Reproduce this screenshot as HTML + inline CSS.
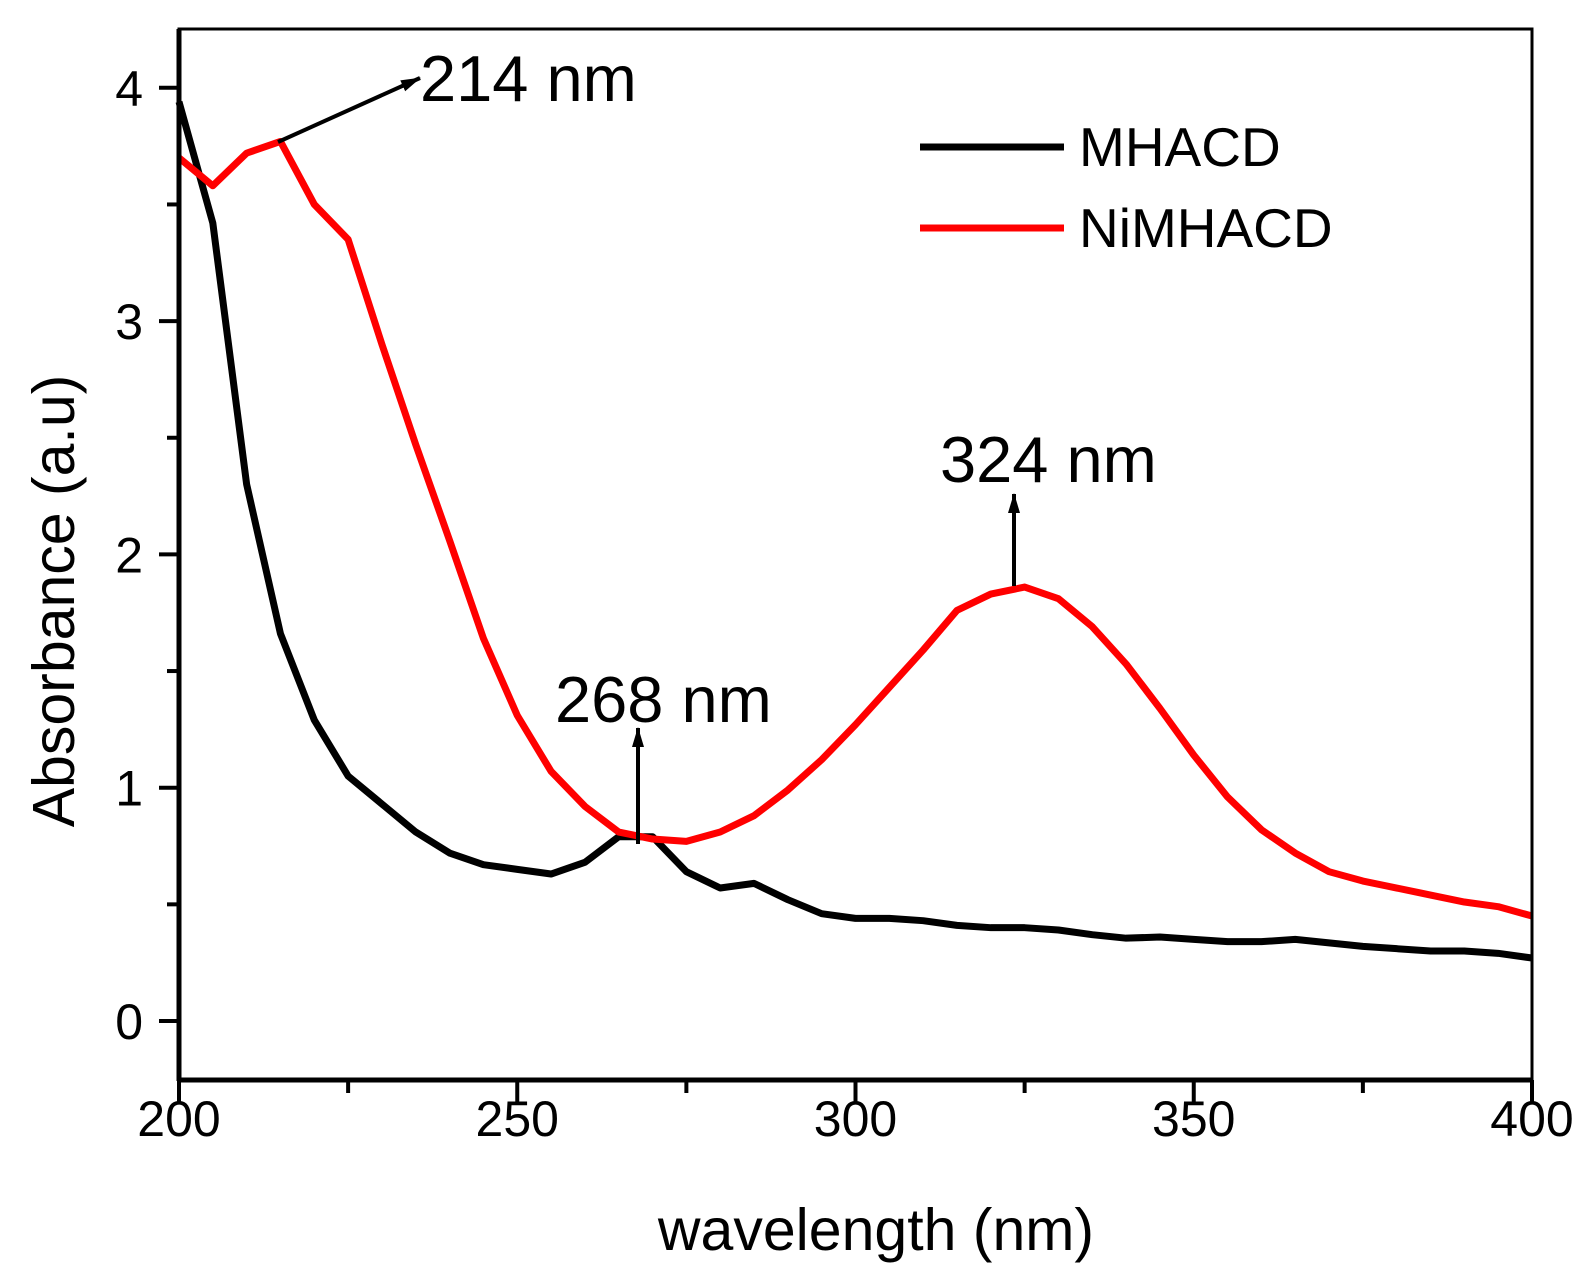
<!DOCTYPE html>
<html><head><meta charset="utf-8"><style>
html,body{margin:0;padding:0;background:#fff;}
svg{display:block;font-family:"Liberation Sans",Arial,sans-serif;}
</style></head><body>
<svg id="chart" width="1586" height="1273" viewBox="0 0 1586 1273" xmlns="http://www.w3.org/2000/svg">
<defs>
<marker id="ah2" markerWidth="20" markerHeight="14" refX="19" refY="7" orient="auto" markerUnits="userSpaceOnUse"><path d="M0,1 L20,7 L0,13 z" fill="#000"/></marker></defs>
<g id="plot"></g>
</svg>
<script>
const wavelengths=[200,205,210,215,220,225,230,235,240,245,250,255,260,265,270,275,280,285,290,295,300,305,310,315,320,325,330,335,340,345,350,355,360,365,370,375,380,385,390,395,400];
const mhacd=[3.94,3.42,2.30,1.66,1.29,1.05,0.93,0.81,0.72,0.67,0.65,0.63,0.68,0.79,0.79,0.64,0.57,0.59,0.52,0.46,0.44,0.44,0.43,0.41,0.40,0.40,0.39,0.37,0.355,0.36,0.35,0.34,0.34,0.35,0.335,0.32,0.31,0.30,0.30,0.29,0.27];
const nimhacd=[3.70,3.58,3.72,3.77,3.50,3.35,2.90,2.47,2.06,1.64,1.31,1.07,0.92,0.81,0.78,0.77,0.81,0.88,0.99,1.12,1.27,1.43,1.59,1.76,1.83,1.86,1.81,1.69,1.53,1.34,1.14,0.96,0.82,0.72,0.64,0.60,0.57,0.54,0.51,0.49,0.45];
const xTicks=[200,250,300,350,400];
const yTicks=[0,1,2,3,4];
const L=179,R=1532,T=29,B=1080;
const X=v=>L+(v-200)/200*(R-L);
const Y=v=>1021-v*233.3;
const NS="http://www.w3.org/2000/svg";
const g=document.getElementById('plot');
function mk(t,a,p){const e=document.createElementNS(NS,t);for(const k in a)e.setAttribute(k,a[k]);(p||g).appendChild(e);return e;}
function txt(s,a){const e=mk('text',a);e.textContent=s;return e;}
const series=[[mhacd,'#000','mhacd-line'],[nimhacd,'#ff0000','nimhacd-line']];
series.forEach(([d,c,n])=>{
  const p=mk('polyline',{points:wavelengths.map((w,i)=>X(w)+','+Y(d[i])).join(' '),fill:'none',stroke:c,'stroke-width':7,'stroke-linejoin':'round'});
  
  
});
const fr=mk('rect',{x:L,y:T,width:R-L,height:B-T,fill:'none',stroke:'#000','stroke-width':3});


mk('line',{x1:L,y1:T,x2:L,y2:B+1,stroke:'#000','stroke-width':5});
mk('line',{x1:L-2,y1:B,x2:R,y2:B,stroke:'#000','stroke-width':5});
for(let v=200;v<=400;v+=25){const major=v%50===0;mk('line',{x1:X(v),y1:B,x2:X(v),y2:B+(major?23:13),stroke:'#000','stroke-width':4});}
xTicks.forEach(v=>{const t=txt(String(v),{x:X(v),y:1136,'font-size':50,'text-anchor':'middle'});

});
for(let v=0;v<=4.01;v+=0.5){const major=Math.abs(v-Math.round(v))<1e-6;mk('line',{x1:L,y1:Y(v),x2:L-(major?20:12),y2:Y(v),stroke:'#000','stroke-width':4});}
yTicks.forEach(v=>{const t=txt(String(v),{x:143,y:Y(v)+18,'font-size':50,'text-anchor':'end'});

});
const xt=txt('wavelength (nm)',{x:876,y:1250,'font-size':59,'text-anchor':'middle'});


const yt=txt('Absorbance (a.u)',{x:0,y:0,'font-size':59,'text-anchor':'middle',transform:'translate(74,601) rotate(-90)'});


[['MHACD','#000',147],['NiMHACD','#ff0000',228]].forEach(([n,c,y])=>{
  const l=mk('line',{x1:920,y1:y,x2:1064,y2:y,stroke:c,'stroke-width':7});
  
  
  const t=txt(n,{x:1079,y:y+19,'font-size':55});
  
  
});
mk('line',{x1:278,y1:142,x2:420,y2:78,stroke:'#000','stroke-width':4,'marker-end':'url(#ah2)'});
mk('line',{x1:638,y1:844,x2:638,y2:728,stroke:'#000','stroke-width':4,'marker-end':'url(#ah2)'});
mk('line',{x1:1014,y1:586,x2:1014,y2:494,stroke:'#000','stroke-width':4,'marker-end':'url(#ah2)'});
[['214 nm',420,101],['268 nm',555,722],['324 nm',940,482]].forEach(([s,x,y])=>{
  const t=txt(s,{x:x,y:y,'font-size':65});
  
  
});
</script>
</body></html>
